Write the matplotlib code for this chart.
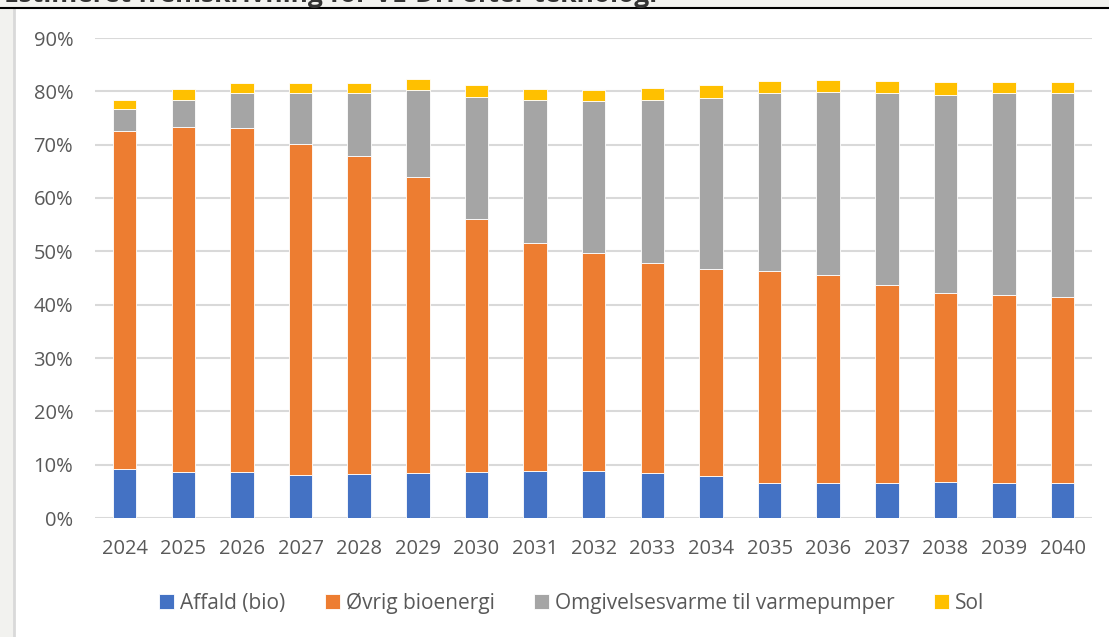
import matplotlib.pyplot as plt
from matplotlib.patches import Rectangle
from matplotlib.lines import Line2D
import numpy as np

# andele (%)
years = [str(y) for y in range(2024, 2041)]
affald = [9.1, 8.7, 8.7, 8.1, 8.3, 8.5, 8.7, 8.9, 8.9, 8.4, 7.8, 6.6, 6.6, 6.6, 6.8, 6.6, 6.6]
bio_top = [72.5, 73.4, 73.1, 70.2, 67.9, 64.0, 56.1, 51.5, 49.6, 47.9, 46.6, 46.25, 45.6, 43.6, 42.1, 41.9, 41.5]
varme_top = [76.6, 78.4, 79.7, 79.6, 79.6, 80.2, 79.0, 78.4, 78.1, 78.4, 78.8, 79.75, 79.9, 79.75, 79.4, 79.6, 79.6]
sol_top = [78.4, 80.4, 81.6, 81.6, 81.6, 82.3, 81.1, 80.5, 80.3, 80.6, 81.1, 82.0, 82.1, 82.0, 81.75, 81.8, 81.8]

ovrig = np.array(bio_top) - np.array(affald)
omgiv = np.array(varme_top) - np.array(bio_top)
sol = np.array(sol_top) - np.array(varme_top)

labels = ["Affald (bio)", "Øvrig bioenergi", "Omgivelsesvarme til varmepumper", "Sol"]
colors = ["#4472C4", "#ED7D31", "#A5A5A5", "#FFC000"]
series = [np.array(affald), ovrig, omgiv, sol]

plt.rcParams['font.family'] = ['Open Sans', 'DejaVu Sans']
W, H = 1109, 637
fig = plt.figure(figsize=(W / 100, H / 100), dpi=100, facecolor='#f2f2ef')

# hvid diagramflade, kant og afskåret overskrift
fig.add_artist(Rectangle((15 / W, 0), 1 - 15 / W, 1 - 9 / H, transform=fig.transFigure,
                         facecolor='white', edgecolor='none', zorder=-2))
fig.add_artist(Line2D([14 / W, 14 / W], [0, 1 - 9 / H], transform=fig.transFigure,
                      color='#d9d9d9', lw=2, zorder=-1))
fig.add_artist(Line2D([0, 1], [1 - 8 / H, 1 - 8 / H], transform=fig.transFigure,
                      color='black', lw=1.5, zorder=-1))
fig.text(4 / W, 1 - 2.5 / H, "Estimeret fremskrivning for VE-DH efter teknologi",
         fontsize=19, fontweight='bold', color='#333333', va='baseline', ha='left')

ax = fig.add_axes([95.4 / W, 119 / H, (1092 - 95.4) / W, (518 - 38) / H])
x = np.arange(len(years))
bottom = np.zeros(len(years))
for vals, lab, col in zip(series, labels, colors):
    ax.bar(x, vals, 0.4, bottom=bottom, color=col, label=lab,
           edgecolor='white', linewidth=0.6, zorder=3)
    bottom = bottom + vals

ax.set_xlim(-0.5, len(years) - 0.5)
ax.set_ylim(0, 90)
ax.set_yticks(range(0, 91, 10))
ax.set_yticklabels([f"{v}%" for v in range(0, 91, 10)])
ax.set_xticks(x)
ax.set_xticklabels(years)
ax.grid(axis='y', color='#d9d9d9', lw=1.5, zorder=0)
for s in ax.spines.values():
    s.set_visible(False)
ax.tick_params(axis='both', length=0, labelsize=14.5, labelcolor='#595959')
ax.tick_params(axis='y', pad=16)
ax.tick_params(axis='x', pad=15)

fig.legend(loc='center', bbox_to_anchor=(572 / W, 1 - 603 / H), ncol=4, frameon=False,
           fontsize=15, labelcolor='#595959', handlelength=0.7, handleheight=0.7,
           handletextpad=0.3, columnspacing=1.9)

fig.savefig('out.png', dpi=100, facecolor=fig.get_facecolor())
